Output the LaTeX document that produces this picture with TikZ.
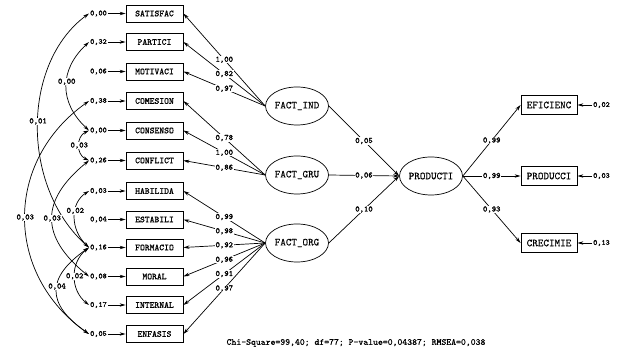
\documentclass[tikz,border=0pt]{standalone}
\usepackage{fontspec}
\newfontfamily\boxfont{Latin Modern Mono}[FakeBold=0.8]
\newfontfamily\numfont{Latin Modern Mono}[FakeBold=1.4]
\newfontfamily\plainfont{Latin Modern Mono}[FakeBold=0.4]
\usetikzlibrary{arrows.meta,shapes.geometric}
\begin{document}
\begin{tikzpicture}[x=1pt,y=-1pt,
  obs/.style={draw, line width=0.8pt, minimum width=57pt, minimum height=17pt, inner sep=0pt,
    font=\boxfont\fontsize{9.2}{9.2}\selectfont},
  robs/.style={obs, minimum width=56pt, minimum height=19pt, font=\plainfont\fontsize{10.6}{10.6}\selectfont},
  lat/.style={draw, ellipse, line width=0.7pt, minimum width=61pt, minimum height=38pt, inner sep=0pt,
    font=\plainfont\fontsize{10.6}{10.6}\selectfont},
  err/.style={inner sep=1pt, font=\numfont\fontsize{7.8}{7.8}\selectfont},
  coef/.style={fill=white, inner sep=0.6pt, font=\numfont\fontsize{8.2}{8.2}\selectfont},
  arr/.style={-{Stealth[length=6pt,width=3.4pt]}, line width=0.7pt},
  darr/.style={{Stealth[length=6pt,width=3.4pt]}-{Stealth[length=6pt,width=3.4pt]}, line width=0.7pt},
  fit/.style={font=\plainfont\fontsize{9.3}{9.3}\selectfont}
]
\useasboundingbox (0,0) rectangle (624,355);

% observed indicators (left)
\node[obs] (b1)  at (154.5,13.5)  {SATISFAC};
\node[obs] (b2)  at (154.5,42)    {PARTICI};
\node[obs] (b3)  at (154.5,71.5)  {MOTIVACI};
\node[obs] (b4)  at (154.5,101)   {COMESION};
\node[obs] (b5)  at (154.5,130.5) {CONSENSO};
\node[obs] (b6)  at (154.5,160.5) {CONFLICT};
\node[obs] (b7)  at (154.5,191)   {HABILIDA};
\node[obs] (b8)  at (154.5,219.5) {ESTABILI};
\node[obs] (b9)  at (154.5,247.5) {FORMACIO};
\node[obs] (b10) at (154.5,276.5) {MORAL};
\node[obs] (b11) at (154.5,305)   {INTERNAL};
\node[obs] (b12) at (154.5,334)   {ENFASIS};

% error variances (left)
\node[err, anchor=west] (l1)  at (89,13.5)  {0,00};
\node[err, anchor=west] (l2)  at (89,42)    {0,32};
\node[err, anchor=west] (l3)  at (89,71.5)  {0,06};
\node[err, anchor=west] (l4)  at (89,101)   {0,38};
\node[err, anchor=west] (l5)  at (89,130.5) {0,00};
\node[err, anchor=west] (l6)  at (89,160.5) {0,26};
\node[err, anchor=west] (l7)  at (89,191)   {0,03};
\node[err, anchor=west] (l8)  at (89,219.5) {0,04};
\node[err, anchor=west] (l9)  at (89,247.5) {0,16};
\node[err, anchor=west] (l10) at (89,276.5) {0,08};
\node[err, anchor=west] (l11) at (89,305)   {0,17};
\node[err, anchor=west] (l12) at (89,334)   {0,05};
\foreach \i in {1,...,12} { \draw[arr] (l\i.east) -- (b\i.west); }

% latent variables
\node[lat] (fi) at (297,106) {FACT\_IND};
\node[lat] (fg) at (297,175) {FACT\_GRU};
\node[lat] (fo) at (297,243) {FACT\_ORG};
\node[lat] (pr) at (431,176) {PRODUCTI};

% right indicators
\node[robs] (ef) at (549,105) {EFICIENC};
\node[robs] (pc) at (549,176) {PRODUCCI};
\node[robs] (ce) at (549,243) {CRECIMIE};
\node[err, anchor=west] (r1) at (592,105) {0,02};
\node[err, anchor=west] (r2) at (592,176) {0,03};
\node[err, anchor=west] (r3) at (592,243) {0,13};
\draw[arr] (r1.west) -- (ef.east);
\draw[arr] (r2.west) -- (pc.east);
\draw[arr] (r3.west) -- (ce.east);

% loadings
\draw[arr] (fi.west) -- node[coef] {1,00} (b1.east);
\draw[arr] (fi.west) -- node[coef] {0,82} (b2.east);
\draw[arr] (fi.west) -- node[coef] {0,97} (b3.east);
\draw[arr] (fg.west) -- node[coef] {0,78} (b4.east);
\draw[arr] (fg.west) -- node[coef] {1,00} (b5.east);
\draw[arr] (fg.west) -- node[coef] {0,86} (b6.east);
\draw[arr] (fo.west) -- node[coef] {0,99} (b7.east);
\draw[arr] (fo.west) -- node[coef] {0,98} (b8.east);
\draw[arr] (fo.west) -- node[coef] {0,92} (b9.east);
\draw[arr] (fo.west) -- node[coef] {0,96} (b10.east);
\draw[arr] (fo.west) -- node[coef] {0,91} (b11.east);
\draw[arr] (fo.west) -- node[coef] {0,97} (b12.east);

% structural paths
\draw[arr] (fi.east) -- node[coef] {0,05} (pr.west);
\draw[arr] (fg.east) -- node[coef] {0,06} (pr.west);
\draw[arr] (fo.east) -- node[coef] {0,10} (pr.west);
\draw[arr] (pr.east) -- node[coef] {0,99} (ef.west);
\draw[arr] (pr.east) -- node[coef] {0,99} (pc.west);
\draw[arr] (pr.east) -- node[coef] {0,93} (ce.west);

% error covariances
\draw[darr] (l1.west) .. controls +(-68,50) and +(-68,-60) .. (l9.west) node[coef, pos=0.48] {0,01};
\draw[darr] (l2.west) .. controls +(-30,28) and +(-30,-28) .. (l5.west) node[coef, pos=0.45] {0,00};
\draw[darr] (l4.west) .. controls +(-85,60) and +(-85,-60) .. (l12.west) node[coef, pos=0.5] {0,03};
\draw[darr] (l5.west) .. controls +(-13,6) and +(-13,-6) .. (l6.west) node[coef, pos=0.5] {0,03};
\draw[darr] (l6.west) .. controls +(-49,40) and +(-49,-40) .. (l10.west) node[coef, pos=0.5] {0,03};
\draw[darr] (l7.west) .. controls +(-19,12) and +(-19,-18) .. (l9.west) node[coef, pos=0.4] {0,02};
\draw[darr] (l9.west) .. controls +(-19,15) and +(-19,-15) .. (l11.west) node[coef, pos=0.5] {0,02};
\draw[darr] (l9.west) .. controls +(-43,30) and +(-43,-30) .. (l12.west) node[coef, pos=0.45] {0,04};

% fit statistics
\node[fit] (stats) at (356,343) {Chi-Square=99,40; df=77; P-value=0,04387; RMSEA=0,038};
\end{tikzpicture}
\end{document}
